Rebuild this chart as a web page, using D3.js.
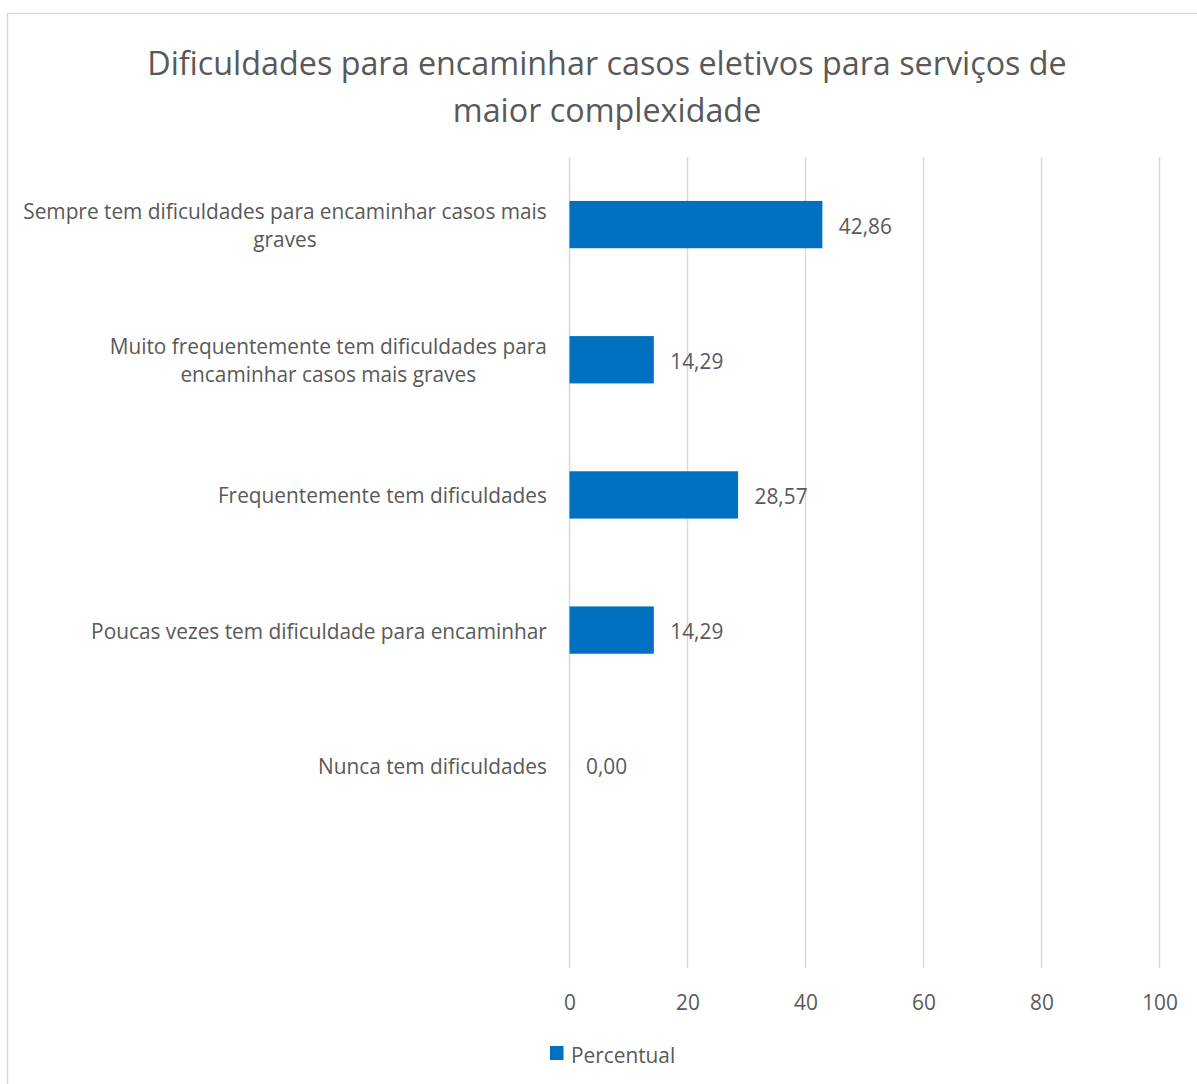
<!DOCTYPE html>
<html>
<head>
<meta charset="utf-8">
<script src="https://cdn.jsdelivr.net/npm/d3@7"></script>
<style>
  html, body { margin: 0; padding: 0; background: #fff; }
  svg { display: block; }
  text { font-family: "Open Sans", Lato, sans-serif; fill: #595959; }
</style>
</head>
<body>
<svg id="chart" width="1197" height="1084"></svg>
<script>
const titleLines = ["Dificuldades para encaminhar casos eletivos para serviços de", "maior complexidade"];
const categories = [
  "Sempre tem dificuldades para encaminhar casos mais graves",
  "Muito frequentemente tem dificuldades para encaminhar casos mais graves",
  "Frequentemente tem dificuldades",
  "Poucas vezes tem dificuldade para encaminhar",
  "Nunca tem dificuldades",
  ""
];
const values = [42.86, 14.29, 28.57, 14.29, 0.00, null];
const xTicks = [0, 20, 40, 60, 80, 100];
const seriesName = "Percentual";

const svg = d3.select("#chart");
const plot = { left: 569.5, right: 1159.5, top: 157, bottom: 968 };
const barColor = "#0070C0";
const gridColor = "#d9d9d9";
const FS = 22, TFS = 32;

// measure helper for horizontal condensing (to mimic a narrow font)
function measure(str, size) {
  const t = svg.append("text").attr("font-size", size).text(str);
  const w = t.node().getComputedTextLength();
  t.remove();
  return w;
}
const SX = 524 / measure("Sempre tem dificuldades para encaminhar casos mais", FS);
const SXT = 920 / measure(titleLines[0], TFS);

function txt(parent, x, y, str, size, anchor, sx) {
  return parent.append("text")
    .attr("transform", `translate(${x},${y}) scale(${sx},1)`)
    .attr("font-size", size).attr("text-anchor", anchor).text(str);
}

// outer chart border
svg.append("rect").attr("x", 7.5).attr("y", 13.5).attr("width", 1200).attr("height", 1100)
  .attr("fill", "none").attr("stroke", gridColor).attr("stroke-width", 1.5);

const x = d3.scaleLinear().domain([0, 100]).range([plot.left, plot.right]);
const y = d3.scaleBand().domain(d3.range(categories.length))
  .range([plot.top, plot.bottom]).paddingInner(0.65).paddingOuter(0.325);
const yC = d3.scaleBand().domain(d3.range(categories.length)).range([plot.top, plot.bottom]);
const center = i => yC(i) + yC.bandwidth() / 2;

// gridlines
svg.append("g").selectAll("line").data(xTicks).join("line")
  .attr("x1", d => x(d)).attr("x2", d => x(d))
  .attr("y1", plot.top).attr("y2", plot.bottom)
  .attr("stroke", gridColor).attr("stroke-width", 1.5);

// x axis tick labels
const xAxis = d3.axisBottom(x).tickValues(xTicks).tickSize(0).tickPadding(0).tickFormat(d3.format("d"));
const gx = svg.append("g").attr("transform", `translate(0,${plot.bottom})`).call(xAxis);
gx.select(".domain").remove();
gx.selectAll("text")
  .attr("dy", null).attr("y", null)
  .attr("transform", `translate(0,42) scale(${SX},1)`)
  .attr("font-size", FS).attr("font-family", null)
  .attr("fill", "#595959");

// bars
const rows = values.map((v, i) => ({v, i})).filter(d => d.v !== null);
svg.append("g").selectAll("rect").data(rows.filter(d => d.v > 0)).join("rect")
  .attr("x", x(0)).attr("y", d => y(d.i))
  .attr("width", d => x(d.v) - x(0)).attr("height", y.bandwidth())
  .attr("fill", barColor);

// value labels
const fmt = v => d3.format(".2f")(v).replace(".", ",");
const vg = svg.append("g");
rows.forEach(d => txt(vg, x(d.v) + 16.5, center(d.i) + 9, fmt(d.v), FS, "start", SX));

// category labels with wrapping
const labelRight = 547;
const maxW = 535;
const lineH = 28.2;
const lg = svg.append("g");
categories.forEach((c, i) => {
  if (!c) return;
  const words = c.split(" ");
  let lines = [], cur = [];
  words.forEach(w => {
    const test = cur.concat([w]).join(" ");
    if (measure(test, FS) * SX > maxW && cur.length) { lines.push(cur.join(" ")); cur = [w]; }
    else cur.push(w);
  });
  lines.push(cur.join(" "));
  const blockW = d3.max(lines, l => measure(l, FS) * SX);
  const cx = labelRight - blockW / 2;
  const cy = center(i) + 8.5;
  lines.forEach((l, k) => txt(lg, cx, cy + (k - (lines.length - 1) / 2) * lineH, l, FS, "middle", SX));
});

// title
const tg = svg.append("g");
titleLines.forEach((l, i) => txt(tg, 607, 75 + i * 46.5, l, TFS, "middle", SXT));

// legend
const leg = svg.append("g");
leg.append("rect").attr("x", 550).attr("y", 1046).attr("width", 13.5).attr("height", 14).attr("fill", barColor);
txt(leg, 571, 1063, seriesName, FS, "start", SX);
</script>
</body>
</html>
